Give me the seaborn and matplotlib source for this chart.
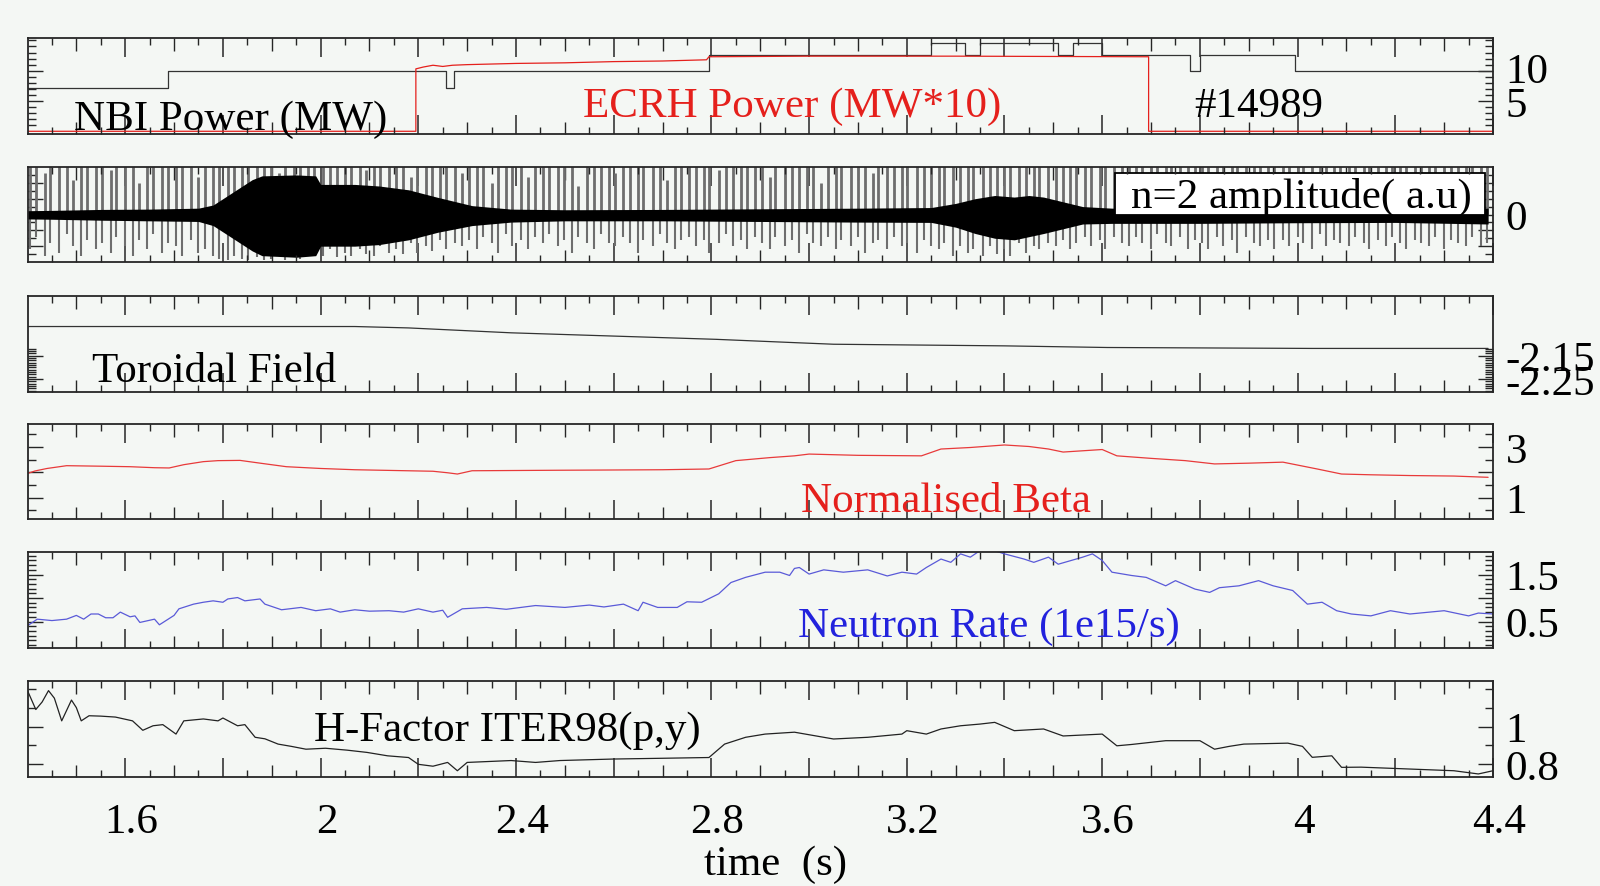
import numpy as np
import matplotlib
matplotlib.use("Agg")
import matplotlib.pyplot as plt
import matplotlib.transforms as mtransforms
import seaborn as sns
from matplotlib.ticker import FixedLocator, FixedFormatter
from matplotlib.patches import Rectangle

# ---------------- data ----------------
# Panel 1: NBI power (MW) and ECRH power (MW*10)
nbi_t = [1.40, 1.687, 1.687, 2.257, 2.257, 2.274, 2.274, 2.795, 2.795, 3.25, 3.25, 3.32, 3.32,
         3.35, 3.35, 3.51, 3.51, 3.54, 3.54, 3.60, 3.60, 3.78, 3.78, 3.80, 3.80, 3.995, 3.995, 4.40]
nbi_v = [7.2, 7.2, 10.0, 10.0, 7.2, 7.2, 10.0, 10.0, 12.6, 12.6, 14.6, 14.6, 12.6,
         12.6, 14.6, 14.6, 12.6, 12.6, 14.6, 14.6, 12.6, 12.6, 10.0, 10.0, 12.6, 12.6, 10.0, 10.0]
ecrh_t = [1.40, 2.195, 2.195, 2.21, 2.23, 2.25, 2.27, 2.30, 2.40, 2.50, 2.60, 2.70, 2.79, 2.795,
          3.0, 3.3, 3.5, 3.695, 3.695, 4.40]
ecrh_v = [0, 0, 10.3, 10.6, 10.9, 10.7, 10.9, 11.0, 11.2, 11.3, 11.5, 11.6, 11.8, 12.3,
          12.4, 12.4, 12.35, 12.3, 0, 0]

# Panel 2: n=2 amplitude, dense core envelope
env_t = [1.40, 1.45, 1.55, 1.65, 1.75, 1.78, 1.81, 1.835, 1.86, 1.88, 1.95, 1.99, 2.0, 2.07, 2.12,
         2.18, 2.24, 2.31, 2.39, 2.5, 2.7, 2.9, 3.1, 3.25, 3.3, 3.34, 3.38, 3.42, 3.45, 3.48, 3.52,
         3.56, 3.62, 3.8, 4.0, 4.2, 4.39]
env_hi = [0.12, 0.13, 0.16, 0.17, 0.2, 0.3, 0.6, 0.85, 1.1, 1.22, 1.25, 1.22, 0.95, 0.95, 0.9,
          0.78, 0.54, 0.28, 0.17, 0.15, 0.16, 0.18, 0.2, 0.22, 0.35, 0.5, 0.6, 0.55, 0.6, 0.55, 0.4,
          0.25, 0.2, 0.18, 0.16, 0.16, 0.2]
env_lo = [-0.14, -0.15, -0.18, -0.2, -0.22, -0.35, -0.65, -0.9, -1.15, -1.3, -1.35, -1.3, -1.0,
          -1.0, -0.95, -0.8, -0.56, -0.35, -0.24, -0.2, -0.2, -0.22, -0.24, -0.25, -0.4, -0.6,
          -0.75, -0.8, -0.7, -0.6, -0.45, -0.3, -0.28, -0.28, -0.26, -0.25, -0.3]
# Panel 2: spikes (times, upper and lower extremes)
spike_t = [1.405, 1.418, 1.435, 1.446, 1.465, 1.480, 1.494, 1.510, 1.522, 1.540,
           1.553, 1.570, 1.581, 1.600, 1.615, 1.629, 1.645, 1.657, 1.675, 1.688,
           1.705, 1.716, 1.735, 1.750, 1.764, 1.780, 1.792, 1.810, 1.823, 1.840,
           1.851, 1.870, 1.885, 1.899, 1.915, 1.927, 1.945, 1.958, 1.975, 1.986,
           2.005, 2.020, 2.034, 2.050, 2.062, 2.080, 2.093, 2.110, 2.121, 2.140,
           2.155, 2.169, 2.185, 2.197, 2.215, 2.228, 2.245, 2.256, 2.275, 2.290,
           2.304, 2.320, 2.332, 2.350, 2.363, 2.380, 2.391, 2.410, 2.425, 2.439,
           2.455, 2.467, 2.485, 2.498, 2.515, 2.526, 2.545, 2.560, 2.574, 2.590,
           2.602, 2.620, 2.633, 2.650, 2.661, 2.680, 2.695, 2.709, 2.725, 2.737,
           2.755, 2.768, 2.785, 2.796, 2.815, 2.830, 2.844, 2.860, 2.872, 2.890,
           2.903, 2.920, 2.931, 2.950, 2.965, 2.979, 2.995, 3.007, 3.025, 3.038,
           3.055, 3.066, 3.085, 3.100, 3.114, 3.130, 3.142, 3.160, 3.173, 3.190,
           3.201, 3.220, 3.235, 3.249, 3.265, 3.277, 3.295, 3.308, 3.325, 3.336,
           3.355, 3.370, 3.384, 3.400, 3.412, 3.430, 3.443, 3.460, 3.471, 3.490,
           3.505, 3.519, 3.535, 3.547, 3.565, 3.578, 3.595, 3.606, 3.625, 3.640,
           3.654, 3.670, 3.682, 3.700, 3.713, 3.730, 3.741, 3.760, 3.775, 3.789,
           3.805, 3.817, 3.835, 3.848, 3.865, 3.876, 3.895, 3.910, 3.924, 3.940,
           3.952, 3.970, 3.983, 4.000, 4.011, 4.030, 4.045, 4.059, 4.075, 4.087,
           4.105, 4.118, 4.135, 4.146, 4.165, 4.180, 4.194, 4.210, 4.222, 4.240,
           4.253, 4.270, 4.281, 4.300, 4.315, 4.329, 4.345, 4.357, 4.375, 4.388]
spike_up = [1.6, 1.6, 1.3, 1.6, 1.6, 1.6, 1.1, 1.6, 1.6, 1.6,
            1.6, 1.4, 1.6, 1.6, 1.6, 1.0, 1.6, 1.6, 1.6, 1.5,
            1.6, 1.6, 1.6, 1.2, 1.6, 1.6, 1.6, 1.6, 1.6, 1.6,
            1.6, 1.6, 1.6, 1.6, 1.3, 1.6, 1.6, 1.6, 1.6, 1.6,
            1.6, 1.6, 1.6, 1.6, 1.6, 1.6, 1.4, 1.6, 1.6, 1.6,
            1.6, 1.6, 1.2, 1.6, 1.6, 1.6, 1.6, 1.6, 1.6, 1.3,
            1.6, 1.6, 1.6, 1.0, 1.6, 1.6, 1.6, 1.6, 1.2, 1.6,
            1.6, 1.6, 1.6, 1.6, 1.6, 0.9, 1.6, 1.6, 1.6, 1.6,
            1.3, 1.6, 1.6, 1.6, 1.6, 1.6, 1.6, 1.1, 1.6, 1.6,
            1.6, 1.6, 1.6, 1.6, 1.4, 1.6, 1.6, 1.6, 1.6, 1.6,
            1.6, 1.2, 1.6, 1.6, 1.6, 1.6, 1.6, 1.6, 1.0, 1.6,
            1.6, 1.6, 1.6, 1.6, 1.6, 1.3, 1.6, 1.6, 1.6, 1.6,
            1.6, 1.6, 1.6, 1.6, 1.6, 1.6, 1.6, 1.6, 1.6, 1.6,
            1.6, 1.6, 1.6, 1.6, 1.6, 1.6, 1.6, 1.6, 1.6, 1.6,
            1.6, 1.6, 1.6, 1.6, 1.6, 1.6, 1.6, 1.6, 1.6, 1.6,
            1.6, 1.6, 1.6, 1.6, 1.6, 1.6, 1.6, 1.6, 1.6, 1.6,
            1.6, 1.6, 1.6, 1.6, 1.6, 1.6, 1.6, 1.6, 1.6, 1.6,
            1.6, 1.6, 1.6, 1.6, 1.6, 1.6, 1.6, 1.6, 1.6, 1.6,
            1.6, 1.6, 1.6, 1.6, 1.6, 1.6, 1.6, 1.6, 1.6, 1.6,
            1.6, 1.6, 1.6, 1.6, 1.6, 1.6, 1.6, 1.6, 1.6, 1.6]
spike_dn = [-1.1, -0.7, -1.3, -0.9, -1.2, -0.6, -1.0, -1.3, -0.8, -1.1,
            -0.9, -1.2, -0.7, -1.0, -1.3, -0.8, -1.1, -0.6, -1.2, -0.9,
            -1.0, -1.3, -0.8, -1.2, -1.1, -1.3, -1.4, -1.45, -1.3, -1.4,
            -1.45, -1.35, -1.45, -1.4, -1.3, -1.45, -1.35, -1.4, -1.3, -1.2,
            -1.3, -1.1, -1.35, -1.2, -1.3, -1.1, -1.25, -1.3, -1.0, -1.2,
            -1.1, -1.25, -0.9, -1.2, -1.0, -1.15, -0.8, -1.1, -0.9, -1.0,
            -0.8, -1.1, -0.7, -0.9, -1.2, -0.6, -1.0, -0.8, -1.1, -0.7,
            -0.9, -0.6, -1.0, -0.8, -1.2, -0.7, -0.9, -1.1, -0.6, -0.9,
            -1.0, -0.7, -0.9, -1.2, -0.8, -1.0, -0.6, -0.9, -1.1, -0.8,
            -0.7, -1.0, -0.8, -1.2, -0.9, -0.6, -1.0, -0.8, -1.1, -0.7,
            -0.9, -1.1, -0.7, -1.0, -0.8, -1.2, -0.6, -0.9, -1.0, -0.7,
            -1.1, -0.8, -1.0, -0.7, -1.2, -0.9, -0.8, -1.1, -0.7, -1.0,
            -0.9, -1.2, -0.8, -1.0, -1.1, -0.9, -1.3, -1.0, -1.2, -1.1,
            -1.3, -1.0, -1.25, -1.1, -1.3, -0.9, -1.2, -1.0, -1.1, -0.9,
            -1.0, -0.8, -1.1, -0.9, -0.7, -1.0, -0.8, -1.1, -0.7, -0.9,
            -1.0, -0.7, -0.9, -1.1, -0.6, -0.9, -1.0, -0.7, -1.1, -0.8,
            -0.9, -1.1, -0.7, -1.0, -0.8, -1.2, -0.7, -0.9, -1.0, -0.8,
            -1.1, -0.8, -1.0, -0.7, -0.9, -1.1, -0.6, -1.0, -0.8, -0.9,
            -1.0, -0.7, -0.9, -1.1, -0.8, -1.0, -0.7, -0.9, -1.1, -0.8,
            -0.9, -1.0, -0.7, -1.1, -0.8, -0.9, -1.0, -0.7, -1.0, -0.9]

# Panel 3: toroidal field (T)
bt_t = [1.40, 1.80, 2.07, 2.18, 2.39, 2.60, 2.81, 2.98, 3.05, 3.40, 3.61, 4.03, 4.39]
bt_v = [-2.025, -2.025, -2.025, -2.031, -2.052, -2.066, -2.08, -2.095, -2.101, -2.108, -2.115,
        -2.119, -2.119]

# Panel 4: normalised beta
beta_t = [1.40, 1.415, 1.44, 1.48, 1.55, 1.61, 1.66, 1.69, 1.72, 1.76, 1.79, 1.835, 1.88, 1.93,
          2.0, 2.07, 2.15, 2.23, 2.26, 2.28, 2.31, 2.40, 2.49, 2.60, 2.70, 2.795, 2.85, 2.92, 2.97,
          3.0, 3.1, 3.23, 3.27, 3.33, 3.40, 3.45, 3.49, 3.52, 3.56, 3.60, 3.63, 3.70, 3.77, 3.83,
          3.90, 3.97, 4.04, 4.09, 4.15, 4.23, 4.32, 4.39]
beta_v = [1.95, 2.05, 2.15, 2.26, 2.24, 2.22, 2.18, 2.17, 2.3, 2.42, 2.46, 2.47, 2.35, 2.22,
          2.15, 2.1, 2.07, 2.04, 1.98, 1.93, 2.06, 2.07, 2.08, 2.09, 2.1, 2.13, 2.46, 2.58, 2.65,
          2.72, 2.67, 2.65, 2.92, 2.98, 3.08, 3.02, 2.92, 2.8, 2.85, 2.9, 2.65, 2.55, 2.46, 2.33,
          2.36, 2.4, 2.13, 1.93, 1.9, 1.87, 1.85, 1.8]

# Panel 5: neutron rate (1e15/s)
neut_t = [1.40, 1.42, 1.45, 1.48, 1.50, 1.515, 1.53, 1.545, 1.56, 1.575, 1.59, 1.61, 1.62, 1.63,
          1.66, 1.67, 1.70, 1.71, 1.74, 1.76, 1.78, 1.80, 1.81, 1.83, 1.845, 1.876, 1.886, 1.92,
          1.96, 1.99, 2.02, 2.04, 2.07, 2.10, 2.14, 2.17, 2.20, 2.23, 2.25, 2.26, 2.29, 2.34, 2.38,
          2.44, 2.50, 2.55, 2.58, 2.62, 2.65, 2.66, 2.69, 2.73, 2.75, 2.78, 2.815, 2.84, 2.87, 2.91,
          2.94, 2.96, 2.97, 2.98, 3.00, 3.03, 3.07, 3.12, 3.16, 3.19, 3.22, 3.24, 3.27, 3.29, 3.31,
          3.33, 3.35, 3.37, 3.40, 3.44, 3.46, 3.49, 3.51, 3.56, 3.58, 3.60, 3.62, 3.66, 3.69, 3.73,
          3.75, 3.79, 3.82, 3.84, 3.88, 3.92, 3.95, 3.99, 4.02, 4.05, 4.08, 4.11, 4.15, 4.19, 4.23,
          4.27, 4.30, 4.35, 4.37, 4.40]
neut_v = [0.41, 0.55, 0.52, 0.55, 0.63, 0.55, 0.66, 0.66, 0.58, 0.58, 0.70, 0.60, 0.62, 0.48,
          0.55, 0.43, 0.63, 0.77, 0.87, 0.91, 0.94, 0.91, 0.98, 1.01, 0.94, 0.98, 0.87, 0.75,
          0.80, 0.73, 0.77, 0.70, 0.75, 0.72, 0.73, 0.70, 0.77, 0.70, 0.74, 0.59, 0.77, 0.80, 0.76,
          0.84, 0.80, 0.85, 0.81, 0.87, 0.73, 0.91, 0.80, 0.80, 0.92, 0.91, 1.09, 1.33, 1.44, 1.55,
          1.55, 1.48, 1.63, 1.65, 1.51, 1.60, 1.55, 1.60, 1.47, 1.55, 1.51, 1.65, 1.83, 1.76, 1.94,
          1.87, 2.01, 2.04, 1.94, 1.83, 1.76, 1.87, 1.72, 1.87, 1.94, 1.80, 1.55, 1.48, 1.44, 1.26,
          1.37, 1.19, 1.12, 1.22, 1.26, 1.37, 1.26, 1.16, 0.87, 0.91, 0.73, 0.66, 0.62, 0.73, 0.66,
          0.70, 0.73, 0.62, 0.68, 0.66]

# Panel 6: H-factor ITER98(p,y)
hf_t = [1.40, 1.417, 1.43, 1.443, 1.455, 1.47, 1.49, 1.50, 1.51, 1.526, 1.55, 1.58, 1.615, 1.636,
        1.657, 1.677, 1.704, 1.72, 1.76, 1.79, 1.80, 1.83, 1.845, 1.866, 1.886, 1.913, 1.94, 1.97,
        2.01, 2.054, 2.095, 2.137, 2.18, 2.20, 2.23, 2.26, 2.28, 2.30, 2.39, 2.44, 2.49, 2.60, 2.70,
        2.795, 2.827, 2.87, 2.91, 2.97, 3.05, 3.12, 3.19, 3.20, 3.24, 3.27, 3.31, 3.35, 3.38, 3.42,
        3.48, 3.52, 3.60, 3.63, 3.66, 3.73, 3.80, 3.83, 3.86, 3.89, 3.98, 4.01, 4.03, 4.07, 4.09,
        4.13, 4.23, 4.32, 4.37, 4.40]
hf_v = [1.19, 1.09, 1.13, 1.19, 1.15, 1.03, 1.14, 1.10, 1.03, 1.057, 1.055, 1.05, 1.03, 0.98,
        1.004, 1.01, 0.96, 1.03, 1.04, 1.03, 1.045, 1.004, 1.01, 0.943, 0.935, 0.907, 0.895, 0.88,
        0.885, 0.875, 0.863, 0.845, 0.836, 0.80, 0.79, 0.81, 0.766, 0.81, 0.82, 0.81, 0.82, 0.828,
        0.832, 0.836, 0.907, 0.943, 0.96, 0.97, 0.934, 0.943, 0.96, 0.978, 0.96, 0.987, 1.004,
        1.013, 1.022, 0.978, 0.987, 0.95, 0.96, 0.898, 0.905, 0.925, 0.925, 0.88, 0.895, 0.907,
        0.912, 0.895, 0.837, 0.845, 0.784, 0.785, 0.775, 0.766, 0.749, 0.766]

# Tick labels
xtick_vals = [1.6, 2.0, 2.4, 2.8, 3.2, 3.6, 4.0, 4.4]
xtick_labels = ["1.6", "2", "2.4", "2.8", "3.2", "3.6", "4", "4.4"]
p1_yticks, p1_ylabels = [5, 10], ["5", "10"]
p2_yticks, p2_ylabels = [-1, -0.5, 0, 0.5, 1], ["", "", "0", "", ""]
p3_yticks, p3_ylabels = [-2.25, -2.15], ["-2.25", "-2.15"]
p4_yticks, p4_ylabels = [1, 2, 3], ["1", "", "3"]
p5_yticks, p5_ylabels = [0.5, 1.0, 1.5], ["0.5", "", "1.5"]
p6_yticks, p6_ylabels = [0.8, 1.0], ["0.8", "1"]

# ---------------- styling ----------------
sns.set_theme(style="ticks")
plt.rcParams["font.family"] = ["Liberation Serif", "DejaVu Serif"]
plt.rcParams["axes.unicode_minus"] = False

BG = "#f4f7f4"
EDGE = "#262626"
RED = "#e5201c"
BLUE = "#2222dd"
FS = 31
W, H = 1600.0, 887.0
L, R = 27.5, 1493.0
tops = [38.8, 168.0, 297.0, 424.5, 553.0, 681.6]
bots = [134.7, 263.0, 393.0, 520.0, 649.0, 777.6]

fig = plt.figure(figsize=(16, 8.87), dpi=100, facecolor=BG)

x_major = [round(1.6 + 0.2 * i, 2) for i in range(15)]
x_mid = [round(1.5 + 0.2 * i, 2) for i in range(15)]
x_fine = [round(1.45 + 0.1 * i, 3) for i in range(30)]

ylims = [(-0.4, 15.43), (-1.5, 1.5), (-2.306, -1.894), (0.15, 3.93), (-0.064, 1.98), (0.735, 1.243)]
yt = [p1_yticks, p2_yticks, p3_yticks, p4_yticks, p5_yticks, p6_yticks]
yl = [p1_ylabels, p2_ylabels, p3_ylabels, p4_ylabels, p5_ylabels, p6_ylabels]
yminor = [list(range(1, 16)),
          [-1.25, -0.75, -0.25, 0.25, 0.75, 1.25],
          [round(-2.30 + 0.01 * i, 2) for i in range(19)],
          [0.5, 1.5, 2.5, 3.5],
          [round(0.1 * i, 1) for i in range(20)],
          [0.9, 1.1, 1.2]]

axes = []
for i, (t, b) in enumerate(zip(tops, bots)):
    ax = fig.add_axes([L / W, 1 - b / H, (R - L) / W, (b - t) / H])
    ax2 = ax.twiny()
    ax.set_facecolor(BG)
    ax.set_xlim(1.4, 4.4)
    ax.set_ylim(*ylims[i])
    for sp in ax.spines.values():
        sp.set_linewidth(1.3)
        sp.set_color(EDGE)
    for sp in ax2.spines.values():
        sp.set_visible(False)
    ax.xaxis.set_major_locator(FixedLocator(x_major))
    ax.xaxis.set_minor_locator(FixedLocator(x_mid))
    lab = dict(zip([round(v, 2) for v in xtick_vals], xtick_labels))
    ax.xaxis.set_major_formatter(FixedFormatter([lab.get(round(v, 2), "") for v in x_major]))
    ax.tick_params(axis="x", which="major", direction="in", length=14, width=1.1, color=EDGE,
                   top=True, bottom=True, labelbottom=(i == 5), labeltop=False,
                   labelsize=FS, pad=19, labelcolor="black")
    ax.tick_params(axis="x", which="minor", direction="in", length=9, width=1.0, color=EDGE,
                   top=True, bottom=True)
    ax2.set_xlim(1.4, 4.4)
    ax2.xaxis.set_major_locator(FixedLocator(x_fine))
    ax2.xaxis.set_minor_locator(FixedLocator([]))
    ax2.tick_params(axis="x", which="major", direction="in", length=5, width=1.0, color=EDGE,
                    top=True, bottom=True, labeltop=False, labelbottom=False)
    ax.yaxis.set_major_locator(FixedLocator(yt[i]))
    ax.yaxis.set_major_formatter(FixedFormatter(yl[i]))
    ax.yaxis.set_minor_locator(FixedLocator(yminor[i]))
    ax.tick_params(axis="y", which="major", direction="in", length=11, width=1.0, color=EDGE,
                   left=True, right=True, labelleft=False, labelright=True, labelsize=FS, pad=9,
                   labelcolor="black")
    ax.tick_params(axis="y", which="minor", direction="in", length=6, width=1.0, color=EDGE,
                   left=True, right=True)
    axes.append(ax)

LW = 0.9
# Panel 1
sns.lineplot(x=nbi_t, y=nbi_v, ax=axes[0], color="#333333", lw=LW, estimator=None, sort=False)
sns.lineplot(x=ecrh_t, y=ecrh_v, ax=axes[0], color=RED, lw=LW, estimator=None, sort=False)
# Panel 2
a2 = axes[1]
a2.vlines(spike_t, 0, spike_up, color="#6e6e6e", lw=2.0, zorder=1)
a2.vlines(spike_t, spike_dn, 0, color="#6e6e6e", lw=1.5, zorder=1)
a2.fill_between(env_t, env_lo, env_hi, color="black", lw=0, zorder=2)
# Panel 3-6
sns.lineplot(x=bt_t, y=bt_v, ax=axes[2], color="#333333", lw=LW, estimator=None, sort=False)
sns.lineplot(x=beta_t, y=beta_v, ax=axes[3], color="#e83a3a", lw=LW, estimator=None, sort=False)
sns.lineplot(x=neut_t, y=neut_v, ax=axes[4], color="#5a5ad8", lw=LW, estimator=None, sort=False)
sns.lineplot(x=hf_t, y=hf_v, ax=axes[5], color="#222222", lw=LW, estimator=None, sort=False)
for ax in axes:
    ax.set_xlabel("")
    ax.set_ylabel("")
    ax.set_xlim(1.4, 4.4)

# x tick labels sit slightly right of their ticks in the reference
shift = mtransforms.ScaledTranslation(6 / 100.0, 0, fig.dpi_scale_trans)
for lbl in axes[5].get_xticklabels():
    lbl.set_transform(lbl.get_transform() + shift)

# the "10" label of the top panel sits a little higher in the reference
up = mtransforms.ScaledTranslation(0, 3 / 100.0, fig.dpi_scale_trans)
for lbl in axes[0].get_yticklabels(which="major"):
    if lbl.get_text() == "10" or True:
        pass
ticks_p1 = axes[0].yaxis.get_major_ticks()
ticks_p1[1].label2.set_transform(ticks_p1[1].label2.get_transform() + up)

# label box in panel 2
a2.add_patch(Rectangle((1115 / W, 1 - 216.3 / H), 370 / W, 42.8 / H, transform=fig.transFigure,
                       facecolor="white", edgecolor="black", lw=1.3, zorder=3))

def ftext(x, y, s, color="black", ha="center"):
    fig.text(x / W, 1 - y / H, s, color=color, ha=ha, va="center", fontsize=FS, zorder=5)

DY = 5.5
ftext(230.6, 114.0 + DY, "NBI Power (MW)")
ftext(791.8, 101.0 + DY, "ECRH Power (MW*10)", color=RED)
ftext(1259.0, 101.0 + DY, "#14989")
ftext(1301.0, 193.5 + 3.5, "n=2 amplitude( a.u)")
ftext(214.3, 366.0 + DY, "Toroidal Field")
ftext(946.0, 496.0 + DY, "Normalised Beta", color=RED)
ftext(988.4, 621.0 + DY, "Neutron Rate (1e15/s)", color=BLUE)
ftext(507.5, 725.0 + DY, "H-Factor ITER98(p,y)")
ftext(775.5, 859.0 + DY, "time  (s)")

fig.savefig("out.png", dpi=100, facecolor=BG)
